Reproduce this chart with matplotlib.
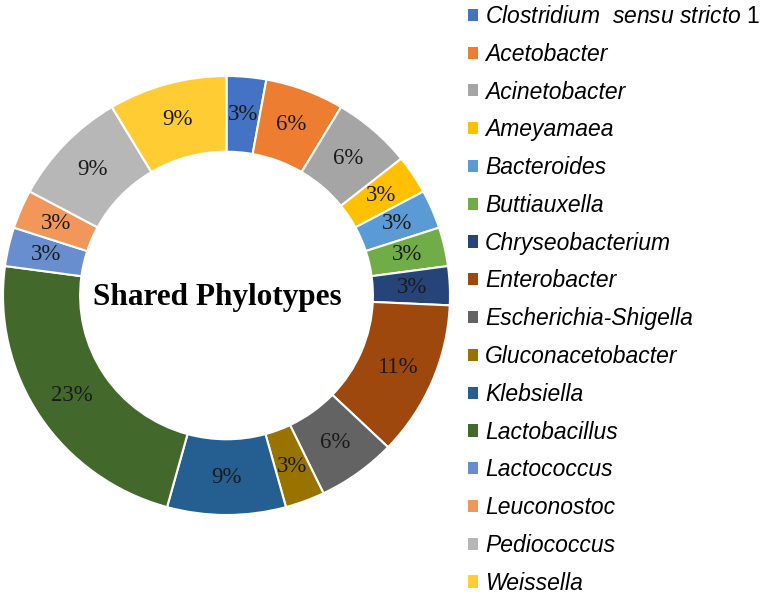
import matplotlib
matplotlib.use("Agg")
import matplotlib.pyplot as plt

plt.rcParams['mathtext.fontset'] = 'custom'
plt.rcParams['mathtext.rm'] = 'Liberation Sans'
plt.rcParams['mathtext.it'] = 'Liberation Sans:italic'

genera = [r"$\mathit{Clostridium}\ \ \mathit{sensu\ stricto}\ \mathrm{1}$",
          "Acetobacter", "Acinetobacter", "Ameyamaea", "Bacteroides", "Buttiauxella",
          "Chryseobacterium", "Enterobacter", "Escherichia-Shigella", "Gluconacetobacter",
          "Klebsiella", "Lactobacillus", "Lactococcus", "Leuconostoc", "Pediococcus", "Weissella"]
counts = [1, 2, 2, 1, 1, 1, 1, 4, 2, 1, 3, 8, 1, 1, 3, 3]
colors = ["#4472C4", "#ED7D31", "#A5A5A5", "#FFC000", "#5B9BD5", "#70AD47",
          "#264478", "#9E480E", "#636363", "#997300", "#255E91", "#43682B",
          "#698ED0", "#F1975A", "#B7B7B7", "#FFCD33"]
center_title = "Shared Phylotypes"

fig = plt.figure(figsize=(7.62, 5.96), dpi=100)
ax = fig.add_axes([3/762, 81/596, 447/762, 439/596])

wedges, texts, autotexts = ax.pie(
    counts, colors=colors, startangle=90, counterclock=False,
    radius=1.0, autopct='%1.0f%%', pctdistance=0.83,
    wedgeprops=dict(width=0.345, edgecolor='white', linewidth=1.5),
    textprops=dict(family='Liberation Serif', fontsize=16.5, color='#1a1a1a'))
ax.set_aspect('auto')
ax.set_xlim(-1, 1)
ax.set_ylim(-1, 1)
ax.axis('off')

ax.text(-0.04, -0.01, center_title, ha='center', va='center',
        family='Liberation Serif', fontweight='bold', fontsize=22.5, color='black')

leg = fig.legend(wedges, genera, loc='upper left', bbox_to_anchor=(468/762, 591/596),
                 frameon=False, borderpad=0, borderaxespad=0,
                 handlelength=0.44, handleheight=0.44, handletextpad=0.3,
                 labelspacing=0.645,
                 prop=dict(family='Liberation Sans', style='italic', size=16.5))
for h in leg.legend_handles:
    h.set_edgecolor('none')
    h.set_linewidth(0)

fig.savefig("out.png", dpi=100)
